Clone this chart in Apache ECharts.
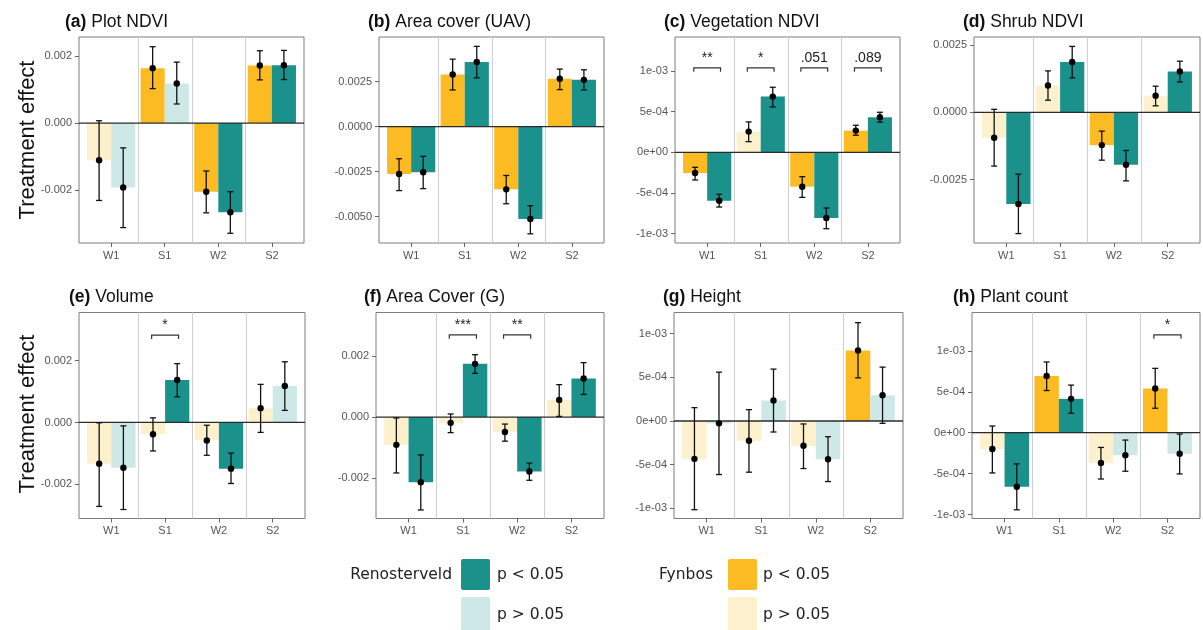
<!DOCTYPE html>
<html>
<head>
<meta charset="utf-8">
<script src="https://cdn.jsdelivr.net/npm/echarts@6/dist/echarts.min.js"></script>
<style>
  html, body { margin: 0; padding: 0; background: #fff; }
  #chart { width: 1203px; height: 630px; }
</style>
</head>
<body>
<div id="chart"></div>
<script>
// Seasons on the x axis of every panel
const categories = ['W1', 'S1', 'W2', 'S2'];

// Each estimate is [mean, lower, upper]; *Sig flags mark p < 0.05
// (a) Plot NDVI
const plotNdviFynbos = [[-0.00111, -0.00231, 0.00007], [0.00164, 0.00103, 0.00228], [-0.00205, -0.00268, -0.00143], [0.00172, 0.00129, 0.00216]];
const plotNdviFynbosSig = [0, 1, 1, 1];
const plotNdviReno = [[-0.00192, -0.00312, -0.00074], [0.00118, 0.00057, 0.00182], [-0.00266, -0.00329, -0.00205], [0.00173, 0.0013, 0.00217]];
const plotNdviRenoSig = [0, 0, 1, 1];

// (b) Area cover (UAV)
const areaUavFynbos = [[-0.00263, -0.00355, -0.00178], [0.0029, 0.00204, 0.00375], [-0.00348, -0.00428, -0.00271], [0.00266, 0.00206, 0.0032]];
const areaUavFynbosSig = [1, 1, 1, 1];
const areaUavReno = [[-0.00253, -0.00344, -0.00165], [0.00359, 0.00271, 0.00446], [-0.00513, -0.00595, -0.00439], [0.0026, 0.00204, 0.00316]];
const areaUavRenoSig = [1, 1, 1, 1];

// (c) Vegetation NDVI
const vegNdviFynbos = [[-2.55e-4, -3.41e-4, -1.85e-4], [2.55e-4, 1.31e-4, 3.74e-4], [-4.23e-4, -5.55e-4, -3.0e-4], [2.67e-4, 2.1e-4, 3.33e-4]];
const vegNdviFynbosSig = [1, 0, 1, 1];
const vegNdviReno = [[-5.96e-4, -6.74e-4, -5.18e-4], [6.86e-4, 5.59e-4, 8.01e-4], [-8.09e-4, -9.41e-4, -6.86e-4], [4.31e-4, 3.7e-4, 4.93e-4]];
const vegNdviRenoSig = [1, 1, 1, 1];
const vegNdviMarks = ['**', '*', '.051', '.089'];

// (d) Shrub NDVI
const shrubNdviFynbos = [[-0.000945, -0.002, 0.00011], [0.000995, 0.00045, 0.00154], [-0.00122, -0.00178, -0.0007], [0.00062, 0.00024, 0.00097]];
const shrubNdviFynbosSig = [0, 0, 1, 0];
const shrubNdviReno = [[-0.00341, -0.00451, -0.0023], [0.00187, 0.00128, 0.00245], [-0.00195, -0.00255, -0.00142], [0.00152, 0.00113, 0.0019]];
const shrubNdviRenoSig = [1, 1, 1, 1];

// (e) Volume
const volumeFynbos = [[-0.00133, -0.00271, -0.00001], [-0.00038, -0.00092, 0.00015], [-0.00058, -0.00106, -0.00009], [0.00046, -0.00032, 0.00123]];
const volumeFynbosSig = [0, 0, 0, 0];
const volumeReno = [[-0.00146, -0.00281, -0.00011], [0.00137, 0.00083, 0.0019], [-0.00149, -0.00197, -0.00099], [0.00118, 0.00039, 0.00196]];
const volumeRenoSig = [0, 1, 1, 0];
const volumeMarks = ['', '*', '', ''];

// (f) Area Cover (G)
const areaGFynbos = [[-0.00091, -0.00183, -0.00003], [-0.00019, -0.00051, 0.0001], [-0.00049, -0.00079, -0.00023], [0.00056, 0.00002, 0.00106]];
const areaGFynbosSig = [0, 0, 0, 0];
const areaGReno = [[-0.00213, -0.00304, -0.00124], [0.00174, 0.00143, 0.00204], [-0.00178, -0.00207, -0.00151], [0.00126, 0.00074, 0.00178]];
const areaGRenoSig = [1, 1, 1, 1];
const areaGMarks = ['', '***', '**', ''];

// (g) Height
const heightFynbos = [[-4.33e-4, -1.015e-3, 1.53e-4], [-2.26e-4, -5.86e-4, 1.3e-4], [-2.84e-4, -5.44e-4, -3.4e-5], [8.08e-4, 4.94e-4, 1.126e-3]];
const heightFynbosSig = [0, 0, 0, 1];
const heightReno = [[-2.7e-5, -6.13e-4, 5.59e-4], [2.34e-4, -1.26e-4, 5.94e-4], [-4.37e-4, -6.93e-4, -1.8e-4], [2.95e-4, -2.7e-5, 6.17e-4]];
const heightRenoSig = [0, 0, 0, 0];

// (h) Plant count
const plantCountFynbos = [[-2.0e-4, -4.92e-4, 8.2e-5], [6.93e-4, 5.16e-4, 8.65e-4], [-3.69e-4, -5.66e-4, -1.8e-4], [5.41e-4, 2.99e-4, 7.87e-4]];
const plantCountFynbosSig = [0, 1, 0, 1];
const plantCountReno = [[-6.6e-4, -9.43e-4, -3.81e-4], [4.14e-4, 2.38e-4, 5.82e-4], [-2.75e-4, -4.71e-4, -9e-5], [-2.58e-4, -5.04e-4, -1.6e-5]];
const plantCountRenoSig = [1, 1, 0, 0];
const plantCountMarks = ['', '', '', '*'];

// Y tick values
const ticksSmall = [-0.002, 0, 0.002];
const ticksQuarter = [-0.005, -0.0025, 0, 0.0025];
const ticksQuarterD = [-0.0025, 0, 0.0025];
const ticksSci = [-1e-3, -5e-4, 0, 5e-4, 1e-3];

const colors = {
  fynbos: ['#fdf0cd', '#fcba23'],
  reno: ['#cde8e6', '#1a918a']
};

const FONT = '"Liberation Sans", Arial, sans-serif';
const LEG_FONT = '"DejaVu Sans", Verdana, sans-serif';

function fmtSci(v) {
  if (Math.abs(v) < 1e-12) return '0e+00';
  const e = Math.floor(Math.log10(Math.abs(v)) + 1e-9);
  const m = Math.round(v / Math.pow(10, e));
  return m + 'e' + (e < 0 ? '-' : '+') + String(Math.abs(e)).padStart(2, '0');
}
const formatters = {
  fixed3: v => v.toFixed(3),
  fixed4: v => v.toFixed(4),
  sci: fmtSci
};

const panels = [
  { tag: '(a)', name: 'Plot NDVI', fyn: plotNdviFynbos, fynSig: plotNdviFynbosSig, ren: plotNdviReno, renSig: plotNdviRenoSig, ticks: ticksSmall, fmt: 'fixed3', marks: null },
  { tag: '(b)', name: 'Area cover (UAV)', fyn: areaUavFynbos, fynSig: areaUavFynbosSig, ren: areaUavReno, renSig: areaUavRenoSig, ticks: ticksQuarter, fmt: 'fixed4', marks: null },
  { tag: '(c)', name: 'Vegetation NDVI', fyn: vegNdviFynbos, fynSig: vegNdviFynbosSig, ren: vegNdviReno, renSig: vegNdviRenoSig, ticks: ticksSci, fmt: 'sci', marks: vegNdviMarks },
  { tag: '(d)', name: 'Shrub NDVI', fyn: shrubNdviFynbos, fynSig: shrubNdviFynbosSig, ren: shrubNdviReno, renSig: shrubNdviRenoSig, ticks: ticksQuarterD, fmt: 'fixed4', marks: null },
  { tag: '(e)', name: 'Volume', fyn: volumeFynbos, fynSig: volumeFynbosSig, ren: volumeReno, renSig: volumeRenoSig, ticks: ticksSmall, fmt: 'fixed3', marks: volumeMarks },
  { tag: '(f)', name: 'Area Cover (G)', fyn: areaGFynbos, fynSig: areaGFynbosSig, ren: areaGReno, renSig: areaGRenoSig, ticks: ticksSmall, fmt: 'fixed3', marks: areaGMarks },
  { tag: '(g)', name: 'Height', fyn: heightFynbos, fynSig: heightFynbosSig, ren: heightReno, renSig: heightRenoSig, ticks: ticksSci, fmt: 'sci', marks: null },
  { tag: '(h)', name: 'Plant count', fyn: plantCountFynbos, fynSig: plantCountFynbosSig, ren: plantCountReno, renSig: plantCountRenoSig, ticks: ticksSci, fmt: 'sci', marks: plantCountMarks }
];

// Panel boxes, axis ranges and bracket heights
const layout = [
  { left: 79, top: 37, width: 225, height: 206, min: -0.00358, max: 0.00257, titleX: 65, titleY: 22 },
  { left: 379, top: 37, width: 225, height: 206, min: -0.00646, max: 0.00498, titleX: 368, titleY: 22 },
  { left: 675, top: 37, width: 225, height: 206, min: -0.001117, max: 0.00142, titleX: 664, titleY: 22, bracketY: 1.04e-3 },
  { left: 974, top: 37, width: 226, height: 206, min: -0.00486, max: 0.0028, titleX: 963, titleY: 22 },
  { left: 79, top: 312.5, width: 226, height: 206, min: -0.0031, max: 0.00355, titleX: 69, titleY: 297, bracketY: 0.00282 },
  { left: 376, top: 312.5, width: 228, height: 206, min: -0.00332, max: 0.00342, titleX: 364, titleY: 297, bracketY: 0.00269 },
  { left: 674, top: 312.5, width: 229, height: 206, min: -0.001116, max: 0.001242, titleX: 663, titleY: 297 },
  { left: 972, top: 312.5, width: 228, height: 206, min: -0.001049, max: 0.00147, titleX: 953, titleY: 297, bracketY: 0.001197 }
];

const BAR_HALF = 0.225;
const grids = [], xAxes = [], yAxes = [], series = [], titles = [];

panels.forEach((p, i) => {
  const L = layout[i];
  grids.push({
    left: L.left, top: L.top, width: L.width, height: L.height,
    show: true, borderColor: '#7d7d7d', borderWidth: 1, backgroundColor: 'transparent'
  });
  xAxes.push({
    gridIndex: i, type: 'value', min: 0.4, max: 4.6, position: 'bottom',
    axisLine: { show: false, onZero: false },
    splitLine: { show: false },
    axisTick: { show: true, customValues: [1, 2, 3, 4], length: 4, lineStyle: { color: '#666' } },
    axisLabel: {
      customValues: [1, 2, 3, 4], margin: 7, color: '#555', fontSize: 11, fontFamily: FONT,
      formatter: v => categories[Math.round(v) - 1]
    }
  });
  yAxes.push({
    gridIndex: i, type: 'value', min: L.min, max: L.max, position: 'left',
    axisLine: { show: false, onZero: false },
    splitLine: { show: false },
    axisTick: { show: true, customValues: p.ticks, length: 4, lineStyle: { color: '#666' } },
    axisLabel: {
      customValues: p.ticks, margin: 7, color: '#555', fontSize: 11, fontFamily: FONT,
      formatter: formatters[p.fmt]
    }
  });
  titles.push({
    left: L.titleX, top: L.titleY - 10, padding: 0,
    text: '{b|' + p.tag + '} ' + p.name,
    textStyle: {
      fontFamily: FONT, fontSize: 17.5, fontWeight: 'normal', color: '#111', lineHeight: 20,
      rich: { b: { fontFamily: FONT, fontSize: 17.5, fontWeight: 'bold', color: '#111', lineHeight: 20 } }
    }
  });

  // group separators between seasons
  series.push({
    type: 'custom', xAxisIndex: i, yAxisIndex: i, z: 1, silent: true,
    data: [[1.5], [2.5], [3.5]],
    encode: { x: 0 },
    renderItem: (params, api) => {
      const cs = params.coordSys;
      const x = Math.round(api.coord([api.value(0), 0])[0]) + 0.5;
      return { type: 'line', shape: { x1: x, y1: cs.y, x2: x, y2: cs.y + cs.height }, style: { stroke: '#cfcfcf', lineWidth: 1 } };
    }
  });

  // bars: [x, mean, significant, group(0 fynbos / 1 renosterveld)]
  const barData = [];
  const errData = [];
  categories.forEach((c, k) => {
    const xf = k + 1 - BAR_HALF, xr = k + 1 + BAR_HALF;
    barData.push([xf, p.fyn[k][0], p.fynSig[k], 0]);
    barData.push([xr, p.ren[k][0], p.renSig[k], 1]);
    errData.push([xf, p.fyn[k][0], p.fyn[k][1], p.fyn[k][2]]);
    errData.push([xr, p.ren[k][0], p.ren[k][1], p.ren[k][2]]);
  });
  series.push({
    type: 'custom', xAxisIndex: i, yAxisIndex: i, z: 2, silent: true,
    data: barData, encode: { x: 0, y: 1 },
    renderItem: (params, api) => {
      const x = api.value(0), v = api.value(1), sig = api.value(2), grp = api.value(3);
      const a = api.coord([x - BAR_HALF, v]);
      const b = api.coord([x + BAR_HALF, 0]);
      const fill = (grp === 0 ? colors.fynbos : colors.reno)[sig ? 1 : 0];
      return {
        type: 'rect',
        shape: { x: a[0], y: Math.min(a[1], b[1]), width: b[0] - a[0], height: Math.abs(b[1] - a[1]) },
        style: { fill: fill }
      };
    }
  });

  // zero reference line
  series.push({
    type: 'custom', xAxisIndex: i, yAxisIndex: i, z: 3, silent: true,
    data: [[0]], encode: { y: 0 },
    renderItem: (params, api) => {
      const cs = params.coordSys;
      const y = api.coord([1, 0])[1];
      return { type: 'line', shape: { x1: cs.x, y1: y, x2: cs.x + cs.width, y2: y }, style: { stroke: '#2b2b2b', lineWidth: 1.3 } };
    }
  });

  // error bars with point estimates
  series.push({
    type: 'custom', xAxisIndex: i, yAxisIndex: i, z: 4, silent: true,
    data: errData, encode: { x: 0, y: [1, 2, 3] },
    renderItem: (params, api) => {
      const x = api.value(0);
      const m = api.coord([x, api.value(1)]);
      const lo = api.coord([x, api.value(2)]);
      const hi = api.coord([x, api.value(3)]);
      const cap = 3;
      const st = { stroke: '#111', lineWidth: 1.3 };
      return {
        type: 'group',
        children: [
          { type: 'line', shape: { x1: m[0], y1: lo[1], x2: m[0], y2: hi[1] }, style: st },
          { type: 'line', shape: { x1: m[0] - cap, y1: lo[1], x2: m[0] + cap, y2: lo[1] }, style: st },
          { type: 'line', shape: { x1: m[0] - cap, y1: hi[1], x2: m[0] + cap, y2: hi[1] }, style: st },
          { type: 'circle', shape: { cx: m[0], cy: m[1], r: 3.2 }, style: { fill: '#000' } }
        ]
      };
    }
  });

  // significance brackets
  if (p.marks) {
    const bData = [];
    const labels = [];
    p.marks.forEach((t, k) => {
      if (t) { bData.push([k + 1, L.bracketY]); labels.push(t); }
    });
    series.push({
      type: 'custom', xAxisIndex: i, yAxisIndex: i, z: 5, silent: true,
      data: bData, encode: { x: 0, y: 1 },
      renderItem: (params, api) => {
        const c = api.value(0), by = api.value(1);
        const l = api.coord([c - 0.25, by]);
        const r = api.coord([c + 0.25, by]);
        const drop = 4;
        return {
          type: 'group',
          children: [
            { type: 'polyline', shape: { points: [[l[0], l[1] + drop], [l[0], l[1]], [r[0], r[1]], [r[0], r[1] + drop]] }, style: { stroke: '#333', lineWidth: 1.2, fill: null } },
            { type: 'text', style: { text: labels[params.dataIndex], x: (l[0] + r[0]) / 2, y: l[1] - 3, align: 'center', verticalAlign: 'bottom', fontFamily: FONT, fontSize: 14, fill: '#222' } }
          ]
        };
      }
    });
  }
});

const legendTextStyle = { fontFamily: LEG_FONT, fontSize: 15.5, fill: '#222' };
const graphic = [
  { type: 'text', x: 28, y: 140, rotation: Math.PI / 2, style: { text: 'Treatment effect', fontFamily: FONT, fontSize: 22, fill: '#111', align: 'center', verticalAlign: 'middle' } },
  { type: 'text', x: 28, y: 414, rotation: Math.PI / 2, style: { text: 'Treatment effect', fontFamily: FONT, fontSize: 22, fill: '#111', align: 'center', verticalAlign: 'middle' } },
  // Renosterveld key
  { type: 'text', x: 452, y: 575, style: Object.assign({ text: 'Renosterveld', align: 'right', verticalAlign: 'middle' }, legendTextStyle) },
  { type: 'rect', shape: { x: 461, y: 559, width: 29, height: 31, r: 2 }, style: { fill: colors.reno[1] } },
  { type: 'rect', shape: { x: 461, y: 597, width: 29, height: 34, r: 2 }, style: { fill: colors.reno[0] } },
  { type: 'text', x: 497, y: 575, style: Object.assign({ text: 'p < 0.05', align: 'left', verticalAlign: 'middle' }, legendTextStyle) },
  { type: 'text', x: 497, y: 615, style: Object.assign({ text: 'p > 0.05', align: 'left', verticalAlign: 'middle' }, legendTextStyle) },
  // Fynbos key
  { type: 'text', x: 713, y: 575, style: Object.assign({ text: 'Fynbos', align: 'right', verticalAlign: 'middle' }, legendTextStyle) },
  { type: 'rect', shape: { x: 728, y: 559, width: 29, height: 31, r: 2 }, style: { fill: colors.fynbos[1] } },
  { type: 'rect', shape: { x: 728, y: 597, width: 29, height: 34, r: 2 }, style: { fill: colors.fynbos[0] } },
  { type: 'text', x: 763, y: 575, style: Object.assign({ text: 'p < 0.05', align: 'left', verticalAlign: 'middle' }, legendTextStyle) },
  { type: 'text', x: 763, y: 615, style: Object.assign({ text: 'p > 0.05', align: 'left', verticalAlign: 'middle' }, legendTextStyle) }
];

const chart = echarts.init(document.getElementById('chart'), null, { renderer: 'canvas' });
chart.setOption({
  animation: false,
  backgroundColor: '#ffffff',
  title: titles,
  grid: grids,
  xAxis: xAxes,
  yAxis: yAxes,
  series: series,
  graphic: graphic
});
</script>
</body>
</html>
